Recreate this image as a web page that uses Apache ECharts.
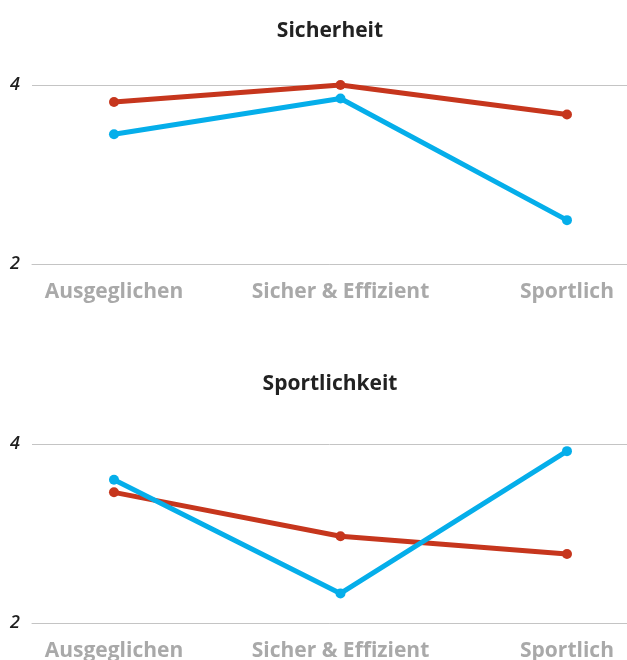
<!DOCTYPE html>
<html>
<head>
<meta charset="utf-8">
<script src="https://cdn.jsdelivr.net/npm/echarts@6/dist/echarts.min.js"></script>
<style>
  html, body { margin: 0; padding: 0; background: #fff; }
  #chart { width: 627px; height: 660px; }
</style>
</head>
<body>
<div id="chart"></div>
<script>
const categories = ["Ausgeglichen", "Sicher & Effizient", "Sportlich"];
const chartTitles = ["Sicherheit", "Sportlichkeit"];
const yTicks = [2, 4];

const sicherheitRed = [3.81, 4.0, 3.67];
const sicherheitBlue = [3.45, 3.85, 2.49];
const sportlichkeitRed = [3.46, 2.97, 2.77];
const sportlichkeitBlue = [3.6, 2.33, 3.92];

const RED = "#c6361d";
const BLUE = "#05aeea";
const FONT = "'Open Sans', 'Noto Sans', sans-serif";

const chart = echarts.init(document.getElementById("chart"));

const toPoints = (vals) => vals.map((v, i) => [i, v]);

// fixed plot areas, labels may reach the canvas edge
const grids = [
  { left: 32, right: 0, top: 85, height: 179, outerBoundsMode: "none" },
  { left: 32, right: 0, top: 444, height: 179, outerBoundsMode: "none" },
];

const xAxis = grids.map((g, i) => ({
  type: "value",
  gridIndex: i,
  min: -0.362,
  max: 2.265,
  axisLine: { show: true, lineStyle: { color: "#c4c4c4", width: 1 } },
  axisTick: { show: false },
  splitLine: { show: false },
  axisLabel: {
    customValues: [0, 1, 2],
    formatter: (v) => categories[Math.round(v)] || "",
    color: "#a9a9a9",
    fontSize: 21,
    fontWeight: "bold",
    fontFamily: FONT,
    margin: 18,
  },
}));

const yAxis = grids.map((g, i) => ({
  type: "value",
  gridIndex: i,
  min: yTicks[0],
  max: yTicks[1],
  interval: 2,
  axisLine: { show: false },
  axisTick: { show: false },
  splitLine: { lineStyle: { color: "#c4c4c4", width: 1 } },
  axisLabel: {
    color: "#1e1e1e",
    fontSize: 18,
    fontStyle: "italic",
    fontWeight: 600,
    fontFamily: FONT,
    margin: 12,
  },
}));

const makeLine = (name, vals, color, idx) => ({
  name,
  type: "line",
  xAxisIndex: idx,
  yAxisIndex: idx,
  data: toPoints(vals),
  symbol: "circle",
  symbolSize: 10,
  lineStyle: { color, width: 5 },
  itemStyle: { color },
  z: name.indexOf("Blau") >= 0 ? 3 : 2,
});

const titleStyle = { fontSize: 21, fontWeight: "bold", color: "#222", fontFamily: FONT };

chart.setOption({
  animation: false,
  title: [
    { text: chartTitles[0], left: 325, top: 16, textAlign: "center", textStyle: titleStyle },
    { text: chartTitles[1], left: 325, top: 369, textAlign: "center", textStyle: titleStyle },
  ],
  grid: grids,
  xAxis,
  yAxis,
  series: [
    makeLine("Rot", sicherheitRed, RED, 0),
    makeLine("Blau", sicherheitBlue, BLUE, 0),
    makeLine("Rot 2", sportlichkeitRed, RED, 1),
    makeLine("Blau 2", sportlichkeitBlue, BLUE, 1),
  ],
});
</script>
</body>
</html>
